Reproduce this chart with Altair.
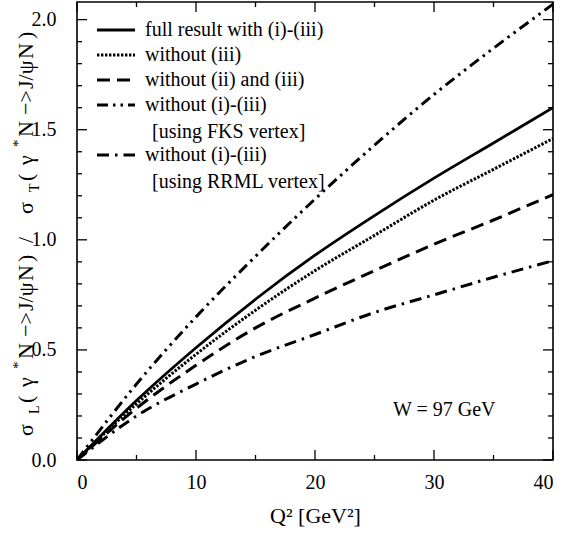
import altair as alt
import pandas as pd

# Q^2 grid [GeV^2] and ratio sigma_L / sigma_T for each approximation
q2 = [0, 5, 10, 15, 20, 25, 30, 35, 40]
full_result = [0.0, 0.27, 0.51, 0.73, 0.93, 1.11, 1.28, 1.44, 1.60]
without_iii = [0.0, 0.255, 0.48, 0.68, 0.86, 1.02, 1.18, 1.32, 1.46]
without_ii_iii = [0.0, 0.235, 0.43, 0.60, 0.735, 0.86, 0.98, 1.09, 1.205]
without_all_fks = [0.0, 0.345, 0.65, 0.925, 1.185, 1.43, 1.66, 1.87, 2.07]
without_all_rrml = [0.0, 0.20, 0.345, 0.47, 0.57, 0.67, 0.75, 0.83, 0.905]

# axis ticks
x_major_ticks = [0, 10, 20, 30, 40]
x_minor_ticks = [5, 15, 25, 35]
y_major_ticks = [0.0, 0.5, 1.0, 1.5, 2.0]
y_minor_ticks = [0.1, 0.2, 0.3, 0.4, 0.6, 0.7, 0.8, 0.9,
                 1.1, 1.2, 1.3, 1.4, 1.6, 1.7, 1.8, 1.9]

legend_labels = [
    "full result with (i)-(iii)",
    "without (iii)",
    "without (ii) and (iii)",
    "without (i)-(iii)",
    "[using FKS vertex]",
    "without (i)-(iii)",
    "[using RRML vertex]",
]
annotation = "W = 97 GeV"

FONT = "Liberation Serif"
W, H = 476, 458

xs = alt.Scale(domain=[0, 40], nice=False)
ys = alt.Scale(domain=[0, 2.08], nice=False)

x_axis = alt.Axis(values=x_major_ticks, format="d", ticks=False, domain=False,
                  grid=False, labelFont=FONT, labelFontSize=20, labelColor="black",
                  labelPadding=12, title="Q²  [GeV²]", titleFont=FONT,
                  titleFontSize=22, titleFontWeight="normal", titleColor="black",
                  titlePadding=13)
y_axis = alt.Axis(values=y_major_ticks, format=".1f", ticks=False, domain=False,
                  grid=False, labelFont=FONT, labelFontSize=20, labelColor="black",
                  labelPadding=21, title="")

layers = []


def curve(values, width, dash=None):
    df = pd.DataFrame({"q2": q2, "ratio": values})
    kw = dict(color="black", strokeWidth=width, interpolate="monotone",
              clip=True, strokeCap="butt")
    if dash is not None:
        kw["strokeDash"] = dash
    return alt.Chart(df).mark_line(**kw).encode(
        x=alt.X("q2:Q", scale=xs, axis=x_axis),
        y=alt.Y("ratio:Q", scale=ys, axis=y_axis),
    )


DASH_DOTTED = [2.4, 1.6]
DASH_DASHED = [13, 7]
DASH_FKS = [11, 5, 2.5, 5, 2.5, 5]
DASH_RRML = [12, 6, 2.5, 6]

layers.append(curve(full_result, 2.8))
layers.append(curve(without_iii, 3, DASH_DOTTED))
layers.append(curve(without_ii_iii, 3, DASH_DASHED))
layers.append(curve(without_all_fks, 3, DASH_FKS))
layers.append(curve(without_all_rrml, 3, DASH_RRML))


# inward ticks on all four sides
def x_ticks(values, length):
    df = pd.DataFrame({"v": values})
    base = alt.Chart(df).mark_rule(color="black", strokeWidth=1.3)
    enc_x = alt.X("v:Q", scale=xs, axis=x_axis)
    return [
        base.encode(x=enc_x, y=alt.value(H), y2=alt.value(H - length)),
        base.encode(x=enc_x, y=alt.value(0), y2=alt.value(length)),
    ]


def y_ticks(values, length):
    df = pd.DataFrame({"v": values})
    base = alt.Chart(df).mark_rule(color="black", strokeWidth=1.3)
    enc_y = alt.Y("v:Q", scale=ys, axis=y_axis)
    return [
        base.encode(y=enc_y, x=alt.value(0), x2=alt.value(length)),
        base.encode(y=enc_y, x=alt.value(W), x2=alt.value(W - length)),
    ]


layers += x_ticks(x_major_ticks, 10) + x_ticks(x_minor_ticks, 5)
layers += y_ticks(y_major_ticks, 10) + y_ticks(y_minor_ticks, 5)

# legend: sample strokes and labels in the upper-left corner
row_y = [28, 53, 78, 103, 130, 153, 180]
sample_styles = [(2.8, None), (3, DASH_DOTTED), (3, DASH_DASHED),
                 (3, DASH_FKS), None, (3, DASH_RRML), None]
anchor = pd.DataFrame({"a": [0]})
for i, label in enumerate(legend_labels):
    style = sample_styles[i]
    if style is not None:
        kw = dict(color="black", strokeWidth=style[0], strokeCap="butt")
        if style[1] is not None:
            kw["strokeDash"] = style[1]
        layers.append(alt.Chart(anchor).mark_rule(**kw).encode(
            x=alt.value(20), x2=alt.value(58), y=alt.value(row_y[i])))
    layers.append(alt.Chart(anchor).mark_text(
        text=label, font=FONT, fontSize=20, color="black",
        align="left", baseline="middle").encode(
        x=alt.value(68 if style is not None else 75), y=alt.value(row_y[i])))

layers.append(alt.Chart(anchor).mark_text(
    text=annotation, font=FONT, fontSize=20, color="black",
    align="left", baseline="middle").encode(x=alt.value(316), y=alt.value(408)))

# vertical axis title built from pieces so sub/superscripts can be placed
TITLE_X = -44
title_pieces = [
    ("σ", 434, 22, 0), ("L", 412, 14, 6), ("(", 401, 22, 0), ("γ", 385, 22, 0),
    ("*", 367, 15, -10), ("N", 357, 22, 0), ("−>", 335, 22, 0), ("J/ψ", 309, 22, 0),
    ("N", 279, 22, 0), (")", 260, 22, 0), ("/", 241, 22, 0), ("σ", 212, 22, 0),
    ("T", 190, 14, 6), ("(", 179, 22, 0), ("γ", 163, 22, 0), ("*", 145, 15, -10),
    ("N", 135, 22, 0), ("−>", 113, 22, 0), ("J/ψ", 87, 22, 0), ("N", 57, 22, 0),
    (")", 37, 22, 0),
]
for txt, pos, size, shift in title_pieces:
    layers.append(alt.Chart(anchor).mark_text(
        text=txt, font=FONT, fontSize=size, color="black", angle=270,
        align="left", baseline="alphabetic").encode(
        x=alt.value(TITLE_X + shift), y=alt.value(pos)))

chart = alt.layer(*layers).properties(
    width=W, height=H,
    padding={"left": 77, "top": 2, "right": 13, "bottom": 77},
    autosize=alt.AutoSizeParams(type="none"),
).configure_view(stroke="black", strokeWidth=1.6)

chart.save("out.html", embed_options={"renderer": "svg", "actions": False})
